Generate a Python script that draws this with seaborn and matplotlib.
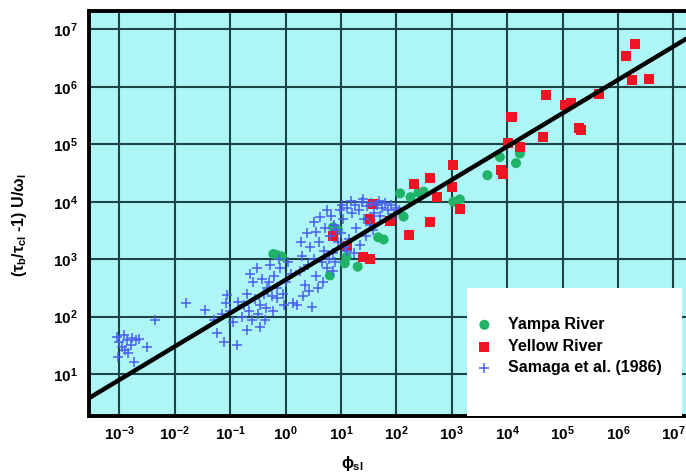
import numpy as np
import pandas as pd
import matplotlib
matplotlib.use('Agg')
import matplotlib.pyplot as plt
from matplotlib.patches import Rectangle
import seaborn as sns

# Yampa River (green circles)
yampa_phi = [1.7e4, 7.4e3, 1.45e4, 4.4e3, 117, 180, 250, 310, 1.07e3, 1.4e3,
             135, 47, 59, 7.2, 8.9, 12.6, 11.7, 20, 0.60, 0.85, 0.71, 6.3]
yampa_y = [6.9e4, 6.0e4, 4.7e4, 2.9e4, 1.4e4, 1.2e4, 1.45e4, 1.5e4, 1.0e4, 1.1e4,
           5.5e3, 2.4e3, 2.2e3, 3.6e3, 3.2e3, 1.1e3, 850, 740, 1230, 1120, 1170, 520]

# Yellow River (red squares)
yellow_phi = [2.0e6, 1.4e6, 1.8e6, 3.6e6, 5.0e4, 1.1e5, 1.4e5, 4.5e5, 1.2e4, 2.0e5,
              2.2e5, 4.5e4, 1.05e4, 1.7e4, 1.07e3, 210, 410, 1.0e3, 550, 1.4e3,
              7.9e3, 8.5e3, 410, 170, 78, 38, 33, 25, 33, 7.2, 12.6]
yellow_y = [5.5e6, 3.5e6, 1.3e6, 1.35e6, 7.2e5, 4.9e5, 5.2e5, 7.4e5, 3.0e5, 1.95e5,
            1.8e5, 1.35e5, 1.07e5, 8.9e4, 4.3e4, 2.0e4, 2.6e4, 1.8e4, 1.2e4, 7.4e3,
            3.5e4, 3.1e4, 4.5e3, 2.6e3, 4.7e3, 9.3e3, 5.1e3, 1.1e3, 1.0e3, 2.5e3, 1.7e3]

# Samaga et al. (1986) (blue crosses)
samaga_phi = [8.9e-4, 1.0e-3, 1.2e-3, 1.35e-3, 1.7e-3, 2.0e-3, 2.3e-3, 1.1e-3, 1.26e-3, 1.45e-3,
              1.8e-3, 3.1e-3, 9.5e-4, 1.6e-3, 4.4e-3,
              1.6e-2, 3.5e-2, 8.7e-2, 8.3e-2, 5.8e-2, 7.6e-2, 5.0e-2, 7.1e-2, 0.11, 0.10,
              0.13, 0.20, 0.35, 0.23, 0.30, 0.46, 0.69, 0.16, 0.18, 0.22,
              0.25, 0.28, 0.32, 0.35, 0.40, 0.45, 0.50, 0.56, 0.63, 0.71,
              0.79, 0.89, 1.0, 1.12, 0.20, 0.26, 0.14, 0.38, 0.52, 0.76,
              1.26, 1.38, 1.58, 0.60, 0.42, 0.95,
              1.8, 2.0, 2.2, 2.4, 2.5, 2.8, 3.0, 3.2, 3.5, 3.6,
              4.0, 4.2, 4.5, 5.0, 5.2, 5.6, 6.3, 6.6, 7.1, 7.6,
              7.9, 8.9, 9.5, 1.9, 2.6, 3.3, 4.8, 6.0, 8.3, 2.1,
              3.8, 5.5, 7.2,
              10, 11, 12.6, 14, 16, 18, 19, 21, 24, 26,
              30, 33, 35, 40, 45, 50, 56, 63, 71, 79,
              89, 100, 112, 13, 17, 22, 28, 38, 10.5, 15,
              25, 48, 12]
samaga_y = [45, 36, 48, 39, 42, 39, 40, 30, 26, 23,
            16, 30, 20, 32, 87,
            170, 130, 240, 170, 51, 36, 89, 112, 79, 126,
            32, 59, 66, 560, 710, 320, 210, 100, 160, 126,
            89, 200, 112, 160, 250, 141, 400, 224, 500, 316,
            710, 250, 400, 890, 250, 400, 178, 450, 790, 1000,
            560, 170, 160, 126, 89, 160,
            630, 1120, 355, 2800, 790, 1600, 148, 1000, 500, 3000,
            2000, 5500, 890, 1400, 3500, 710, 2500, 5600, 1260, 4000,
            890, 2000, 7100, 2000, 280, 4500, 400, 1000, 3200, 224,
            316, 7100, 630,
            2800, 5000, 7900, 2200, 6300, 8900, 3500, 7100, 10000, 5000,
            8300, 4000, 9500, 6300, 8900, 5600, 7900, 9500, 7100, 8900,
            6000, 7900, 7100, 1400, 1260, 1800, 2500, 3200, 8900, 10500,
            11200, 10500, 1600]

# fitted power law  y = fit_coef * phi ** fit_exp
fit_coef = 437.0
fit_exp = 0.58

x_ticks = [1e-3, 1e-2, 1e-1, 1e0, 1e1, 1e2, 1e3, 1e4, 1e5, 1e6, 1e7]
y_ticks = [1e1, 1e2, 1e3, 1e4, 1e5, 1e6, 1e7]

sns.set_theme(style='white')
plt.rcParams['font.family'] = ['Liberation Sans', 'DejaVu Sans']
plt.rcParams['font.weight'] = 'bold'
plt.rcParams['text.color'] = 'black'
plt.rcParams['axes.labelcolor'] = 'black'
plt.rcParams['mathtext.fontset'] = 'custom'
plt.rcParams['mathtext.rm'] = 'Liberation Sans:bold'
plt.rcParams['mathtext.it'] = 'Liberation Sans:bold'
plt.rcParams['mathtext.bf'] = 'Liberation Sans:bold'

fig = plt.figure(figsize=(6.86, 4.76), dpi=100)
ax = fig.add_axes([89 / 686, 60 / 476, 597 / 686, 405 / 476])
ax.set_facecolor('#aef6f6')

df_yampa = pd.DataFrame({'phi': yampa_phi, 'y': yampa_y})
df_yellow = pd.DataFrame({'phi': yellow_phi, 'y': yellow_y})
df_samaga = pd.DataFrame({'phi': samaga_phi, 'y': samaga_y})

sns.scatterplot(data=df_yampa, x='phi', y='y', ax=ax, marker='o', s=52,
                color='#20b468', edgecolor='none', label='Yampa River', zorder=3)
sns.scatterplot(data=df_yellow, x='phi', y='y', ax=ax, marker='s', s=52,
                color='#ee1424', edgecolor='none', label='Yellow River', zorder=3)
sns.scatterplot(data=df_samaga, x='phi', y='y', ax=ax, marker='+', s=45,
                color='#4a5ef0', linewidth=1.1, label='Samaga et al. (1986)', zorder=4)

xmin, xmax = 10 ** -3.55, 10 ** 7.23
fit_x = np.logspace(-3.55, 7.23, 50)
sns.lineplot(x=fit_x, y=fit_coef * fit_x ** fit_exp, ax=ax, color='black',
             linewidth=3.2, zorder=5, legend=False)

ax.set_xscale('log')
ax.set_yscale('log')
ax.set_xlim(xmin, xmax)
ax.set_ylim(10 ** 0.27, 10 ** 7.32)
ax.set_xticks(x_ticks)
ax.set_yticks(y_ticks)
ax.minorticks_off()
ax.grid(True, which='major', color='#1c4444', linewidth=1.5)
ax.set_axisbelow(True)

for side in ['left', 'top', 'bottom']:
    ax.spines[side].set_color('black')
    ax.spines[side].set_linewidth(2.8)
ax.spines['right'].set_visible(False)

ax.tick_params(axis='both', which='major', direction='in', length=5, width=1.5,
               color='#1c4444', labelsize=11, labelcolor='black')
ax.tick_params(axis='x', pad=6)
ax.tick_params(axis='y', pad=8)

ax.set_xlabel(r'$\phi_{sl}$', fontsize=11.5, fontweight='bold', color='black')
ax.set_ylabel(r'$(\tau_b/\tau_{cl}$ -1) U/$\omega_l$', fontsize=11.5,
              fontweight='bold', color='black')
ax.xaxis.set_label_coords((352 - 89) / 597, -0.095)
ax.yaxis.set_label_coords(-0.1, 0.47)

# white legend panel in the lower right
ax.add_patch(Rectangle(((467 - 89) / 597, 0), (682 - 467) / 597, (416 - 288) / 405,
                       transform=ax.transAxes, facecolor='white', edgecolor='none',
                       zorder=6))
leg = ax.legend(loc='upper left', bbox_to_anchor=((474 - 89) / 597, 1 - (317 - 11) / 405),
                frameon=False, borderpad=0, borderaxespad=0,
                handletextpad=0.8, labelspacing=0.42, handlelength=1.3,
                prop={'weight': 'bold', 'size': 11.5})
for txt in leg.get_texts():
    txt.set_color('black')
leg.set_zorder(7)

fig.savefig('out.png', dpi=100)
